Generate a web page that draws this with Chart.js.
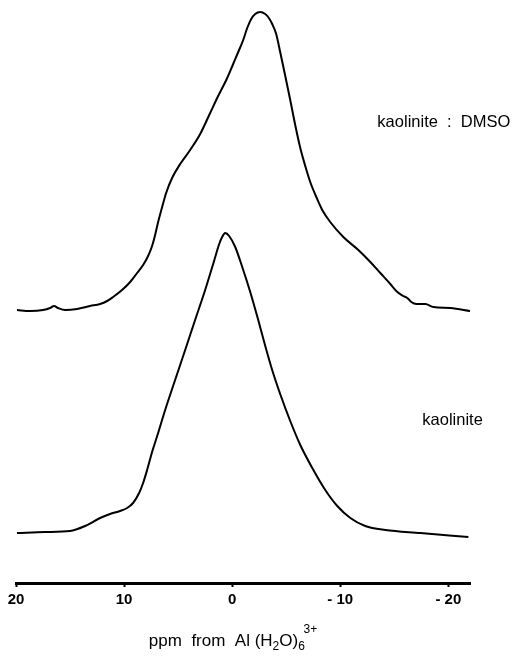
<!DOCTYPE html>
<html>
<head>
<meta charset="utf-8">
<title>27Al NMR spectra of kaolinite and kaolinite : DMSO</title>
<script src="https://cdn.jsdelivr.net/npm/chart.js@4/dist/chart.umd.min.js"></script>
<style>
  html, body { margin: 0; padding: 0; background: #fff; }
  #wrap { width: 516px; height: 659px; }
</style>
</head>
<body>
<div id="wrap"><canvas id="nmr" width="516" height="659"></canvas></div>
<script>
// Chemical shift axis (ppm from Al(H2O)6 3+), high field to the right
const tickValues = [20, 10, 0, -10, -20];

// kaolinite : DMSO intercalate (upper trace, stacked above the lower one)
const dmsoPpm = [19.91, 18.70, 17.50, 16.85, 16.48, 16.11, 15.46, 14.35, 13.15, 12.22,
  11.57, 11.02, 10.19, 9.44, 8.80, 8.24, 7.78, 7.41, 7.13, 6.85,
  6.48, 6.11, 5.56, 4.81, 3.89, 2.96, 2.04, 1.30, 0.46, -0.09,
  -0.56, -1.02, -1.39, -1.76, -2.13, -2.59, -3.06, -3.33, -3.70, -4.07,
  -4.44, -4.91, -5.37, -5.83, -6.30, -6.76, -7.22, -7.78, -8.33, -9.07,
  -10.28, -11.67, -12.78, -13.70, -14.63, -15.28, -15.83, -16.20, -16.57, -17.04,
  -17.87, -18.61, -20.19, -22.04];
const dmsoIntensity = [273, 272, 273, 275, 277, 275, 273, 274, 277, 279,
  282, 286, 293, 301, 310, 318, 327, 337, 348, 361,
  376, 390, 405, 419, 433, 449, 470, 487, 505, 519,
  531, 543, 555, 564, 569, 571, 569, 566, 559, 549,
  531, 507, 483, 458, 435, 417, 401, 386, 373, 361,
  346, 333, 321, 310, 299, 291, 287, 285, 281, 279,
  279, 276, 275, 272];

// kaolinite (lower trace)
const kaolPpm = [19.91, 17.31, 15.00, 13.61, 12.22, 11.30, 10.37, 9.72, 9.17, 8.61,
  8.24, 7.87, 7.41, 6.94, 6.20, 5.28, 4.35, 3.43, 2.50, 1.76,
  1.20, 0.93, 0.65, 0.28, -0.28, -0.93, -1.67, -2.41, -3.06, -3.70,
  -4.44, -5.37, -6.30, -7.41, -8.61, -9.72, -10.93, -12.31, -14.17, -17.41,
  -21.85];
const kaolIntensity = [50, 51, 52, 57, 65, 69, 72, 75, 80, 90,
  100, 113, 131, 147, 173, 203, 233, 263, 293, 319,
  339, 346, 350, 347, 336, 316, 291, 263, 237, 213,
  189, 162, 138, 115, 93, 77, 65, 57, 53, 50,
  46];

const traceNames = ['kaolinite  :  DMSO', 'kaolinite'];

const FONT = '"Liberation Sans", Arial, Helvetica, sans-serif';

function toPoints(xs, ys) {
  return xs.map((x, i) => ({ x: x, y: ys[i] }));
}

// Trace captions and the axis title with sub/superscripts
const annotate = {
  id: 'annotate',
  afterDraw(chart) {
    const { ctx, scales: { x, y }, chartArea } = chart;
    ctx.save();
    ctx.fillStyle = '#000';
    ctx.textBaseline = 'alphabetic';
    ctx.textAlign = 'left';
    ctx.font = '16.5px ' + FONT;
    ctx.fillText(traceNames[0], x.getPixelForValue(-13.43), y.getPixelForValue(456));
    ctx.fillText(traceNames[1], x.getPixelForValue(-17.59), y.getPixelForValue(158));

    // ppm from Al (H2O)6 3+
    const base = chartArea.bottom + 63;
    const main = '17px ' + FONT;
    const small = '12px ' + FONT;
    const parts = [
      { t: 'ppm  from  Al (H', f: main, dy: 0 },
      { t: '2', f: small, dy: 4 },
      { t: 'O)', f: main, dy: 0 },
      { t: '6', f: small, dy: 4 },
      { t: '3+', f: small, dy: -13 }
    ];
    let total = 0;
    parts.forEach(p => { ctx.font = p.f; p.w = ctx.measureText(p.t).width; total += p.w; });
    let cx = x.getPixelForValue(0) - total / 2 + 1.5;
    parts.forEach((p, i) => {
      ctx.font = p.f;
      // the charge sits over the subscript
      if (i === parts.length - 1) cx -= parts[i - 1].w * 0.2;
      ctx.fillText(p.t, cx, base + p.dy);
      cx += p.w;
    });
    ctx.restore();
  }
};

new Chart(document.getElementById('nmr'), {
  type: 'line',
  data: {
    datasets: [
      {
        label: traceNames[0],
        data: toPoints(dmsoPpm, dmsoIntensity),
        borderColor: '#000',
        borderWidth: 2,
        pointRadius: 0,
        fill: false,
        cubicInterpolationMode: 'monotone'
      },
      {
        label: traceNames[1],
        data: toPoints(kaolPpm, kaolIntensity),
        borderColor: '#000',
        borderWidth: 2,
        pointRadius: 0,
        fill: false,
        cubicInterpolationMode: 'monotone'
      }
    ]
  },
  options: {
    responsive: false,
    animation: false,
    events: [],
    layout: { padding: { left: 16, right: 46, top: 0, bottom: 0 } },
    plugins: {
      legend: { display: false },
      tooltip: { enabled: false },
      title: { display: false }
    },
    scales: {
      x: {
        type: 'linear',
        reverse: true,
        min: -22,
        max: 20,
        afterBuildTicks(scale) {
          scale.ticks = tickValues.map(v => ({ value: v }));
        },
        afterFit(scale) { scale.height = 76; },
        border: { display: true, color: '#000', width: 3 },
        grid: {
          display: true,
          drawOnChartArea: false,
          drawTicks: true,
          tickLength: 4,
          tickWidth: 2,
          tickColor: '#000'
        },
        ticks: {
          color: '#000',
          padding: 4,
          maxRotation: 0,
          autoSkip: false,
          font: { family: FONT, size: 15, weight: 'bold' },
          callback: v => (v < 0 ? '- ' + Math.abs(v) : String(v))
        }
      },
      y: {
        type: 'linear',
        display: false,
        min: 0,
        max: 583
      }
    }
  },
  plugins: [annotate]
});
</script>
</body>
</html>
